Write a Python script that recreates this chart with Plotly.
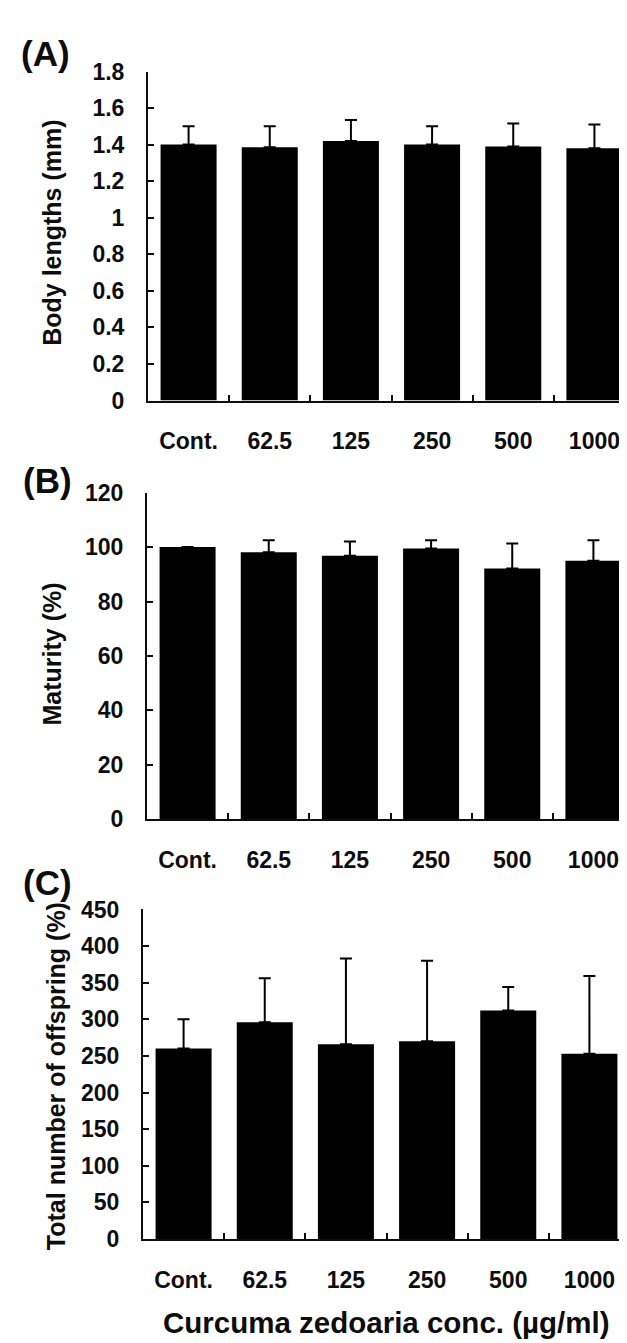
import plotly.graph_objects as go

# ---- data ----
categories = ["Cont.", "62.5", "125", "250", "500", "1000"]

body_len = [1.40, 1.385, 1.42, 1.40, 1.39, 1.38]
body_len_sd = [0.10, 0.115, 0.115, 0.10, 0.125, 0.13]

maturity = [100.0, 98.1, 96.8, 99.5, 92.1, 95.0]
maturity_sd = [0.0, 4.4, 5.3, 3.0, 9.2, 7.5]

offspring = [260, 296, 266, 270, 312, 253]
offspring_sd = [40, 60, 117, 110, 32, 106]

yticks_a = [0, 0.2, 0.4, 0.6, 0.8, 1, 1.2, 1.4, 1.6, 1.8]
yticks_b = [0, 20, 40, 60, 80, 100, 120]
yticks_c = [0, 50, 100, 150, 200, 250, 300, 350, 400, 450]

panel_labels = ["(A)", "(B)", "(C)"]
y_titles = ["Body lengths (mm)", "Maturity (%)", "Total number of offspring (%)"]
x_title = "Curcuma zedoaria conc. (µg/ml)"

W, H = 627, 1343
FONT = "Liberation Sans, Arial, sans-serif"
INK = "#0d0d0d"


def fx(px):
    return px / W


def fy(py):
    return 1 - py / H


fig = go.Figure()

series = [(body_len, body_len_sd), (maturity, maturity_sd), (offspring, offspring_sd)]
for i, (vals, sd) in enumerate(series):
    n = "" if i == 0 else str(i + 1)
    fig.add_trace(go.Bar(
        x=categories, y=vals,
        xaxis="x" + n, yaxis="y" + n,
        marker=dict(color="#000000", line=dict(width=0)),
        error_y=dict(type="data", symmetric=False, array=sd,
                     arrayminus=[0] * len(sd), color="#000000",
                     thickness=2, width=6),
        showlegend=False,
    ))

# pixel geometry of each panel: (left, right, top, bottom)
geo = [
    (140, 627, 51.5, 387),
    (139, 626, 481, 814),
    (135, 622, 906, 1242),
]
ranges = [[0, 1.8], [0, 120], [0, 450]]
ticks = [yticks_a, yticks_b, yticks_c]

layout = dict(
    width=W, height=H,
    margin=dict(l=0, r=0, t=0, b=0),
    paper_bgcolor="white", plot_bgcolor="white",
    bargap=0.31,
    font=dict(family=FONT, color=INK),
    annotations=[],
)

for i, (l, r, t, b) in enumerate(geo):
    n = "" if i == 0 else str(i + 1)
    layout["xaxis" + n] = dict(
        domain=[fx(l), fx(r)], anchor="y" + n,
        type="category", range=[-0.5, 5.5],
        showline=True, linecolor=INK, linewidth=2,
        ticks="inside", ticklen=6, tickwidth=1.5, tickcolor=INK,
        tickson="boundaries",
        tickfont=dict(size=23, family=FONT, color=INK, weight="bold"),
        ticklabelstandoff=19, ticklabeloverflow="allow",
        showgrid=False, zeroline=False, fixedrange=True,
    )
    layout["yaxis" + n] = dict(
        domain=[fy(b), fy(t)], anchor="x" + n,
        range=ranges[i],
        tickmode="array", tickvals=ticks[i],
        showline=True, linecolor=INK, linewidth=2,
        ticks="inside", ticklen=6, tickwidth=1.5, tickcolor=INK,
        tickfont=dict(size=23, family=FONT, color=INK, weight="bold"),
        ticklabelstandoff=17,
        showgrid=False, zeroline=False, fixedrange=True,
    )

# panel letters
for lab, (px, py) in zip(panel_labels, [(37, 33), (39, 469), (39, 878)]):
    layout["annotations"].append(dict(
        text=lab, x=fx(px), y=fy(py), xref="paper", yref="paper",
        xanchor="center", yanchor="middle", showarrow=False,
        font=dict(size=35, family=FONT, color=INK, weight="bold"),
    ))

# y titles
for ttl, (px, py) in zip(y_titles, [(44, 216), (44, 646), (48, 1076)]):
    layout["annotations"].append(dict(
        text=ttl, x=fx(px), y=fy(py), xref="paper", yref="paper",
        xanchor="center", yanchor="middle", showarrow=False, textangle=-90,
        font=dict(size=25, family=FONT, color=INK, weight="bold"),
    ))

# x title
layout["annotations"].append(dict(
    text=x_title, x=fx(378), y=fy(1327), xref="paper", yref="paper",
    xanchor="center", yanchor="middle", showarrow=False,
    font=dict(size=29.5, family=FONT, color=INK, weight="bold"),
))

fig.update_layout(**layout)
fig.write_html("out.html")
